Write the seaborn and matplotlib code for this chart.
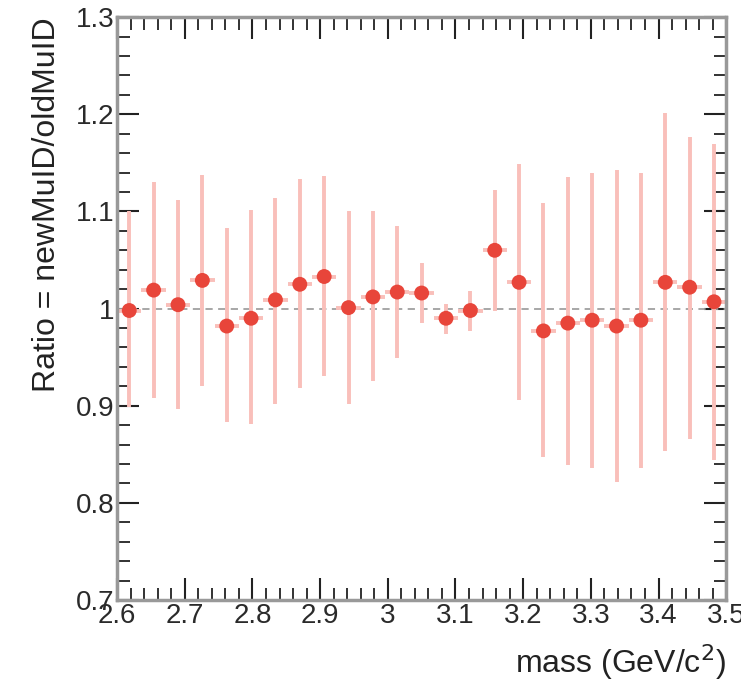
import matplotlib
matplotlib.use('Agg')
import matplotlib.pyplot as plt
import numpy as np
import pandas as pd
import seaborn as sns
from matplotlib.ticker import MultipleLocator

# 25 mass bins between 2.6 and 3.5 GeV/c^2
mass_lo = 2.6
bin_width = 0.036
ratio = [0.998, 1.019, 1.004, 1.029, 0.982, 0.990, 1.009, 1.025, 1.033, 1.001,
         1.012, 1.017, 1.016, 0.990, 0.998, 1.060, 1.027, 0.977, 0.985, 0.988,
         0.982, 0.988, 1.027, 1.022, 1.007]
err_up = [1.100, 1.130, 1.112, 1.138, 1.083, 1.102, 1.114, 1.133, 1.136, 1.100,
          1.100, 1.085, 1.047, 1.005, 1.018, 1.122, 1.149, 1.109, 1.135, 1.140,
          1.143, 1.140, 1.201, 1.177, 1.169]
err_down = [0.899, 0.908, 0.897, 0.920, 0.883, 0.881, 0.902, 0.918, 0.931, 0.902,
            0.925, 0.949, 0.985, 0.974, 0.977, 0.998, 0.906, 0.847, 0.839, 0.836,
            0.821, 0.836, 0.853, 0.866, 0.844]

df = pd.DataFrame({'ratio': ratio, 'hi': err_up, 'lo': err_down})
df['mass'] = mass_lo + bin_width * (np.arange(len(df)) + 0.5)

sns.set_style('ticks')
plt.rcParams['font.family'] = ['Liberation Sans', 'DejaVu Sans']

fig = plt.figure(figsize=(7.41, 6.88), dpi=100)
ax = fig.add_axes([0.158, 0.128, 0.822, 0.847])

ax.axhline(1.0, color='#a0a0a0', ls=(0, (4, 3)), lw=1.3, zorder=1)

ax.errorbar(df['mass'], df['ratio'],
            yerr=[df['ratio'] - df['lo'], df['hi'] - df['ratio']],
            xerr=bin_width / 2, fmt='none', ecolor='#f9bfba', elinewidth=2.8,
            capsize=0, zorder=2)
sns.scatterplot(data=df, x='mass', y='ratio', ax=ax, color='#e8453a',
                s=115, edgecolor='none', zorder=3, legend=False)

ax.set_xlim(2.6, 3.5)
ax.set_ylim(0.7, 1.3)
ax.xaxis.set_major_locator(MultipleLocator(0.1))
ax.xaxis.set_minor_locator(MultipleLocator(0.02))
ax.yaxis.set_major_locator(MultipleLocator(0.1))
ax.yaxis.set_minor_locator(MultipleLocator(0.02))
ax.xaxis.set_major_formatter(plt.FuncFormatter(lambda v, p: f'{v:g}'))
ax.yaxis.set_major_formatter(plt.FuncFormatter(lambda v, p: f'{v:g}'))

ax.tick_params(which='both', direction='in', top=True, right=True,
               color='#222222', labelsize=20, labelcolor='#2a2a2a')
ax.tick_params(which='major', length=16, width=1.5, pad=2)
ax.tick_params(which='minor', length=9, width=1.3)
for s in ax.spines.values():
    s.set_color('#999999')
    s.set_linewidth(2.5)

ax.set_xlabel('mass (GeV/c$^2$)', fontsize=23, loc='right', labelpad=10,
              color='#222222')
ax.set_ylabel('Ratio = newMuID/oldMuID', fontsize=23, loc='top', labelpad=10,
              color='#222222')

fig.savefig('out.png', dpi=100)
